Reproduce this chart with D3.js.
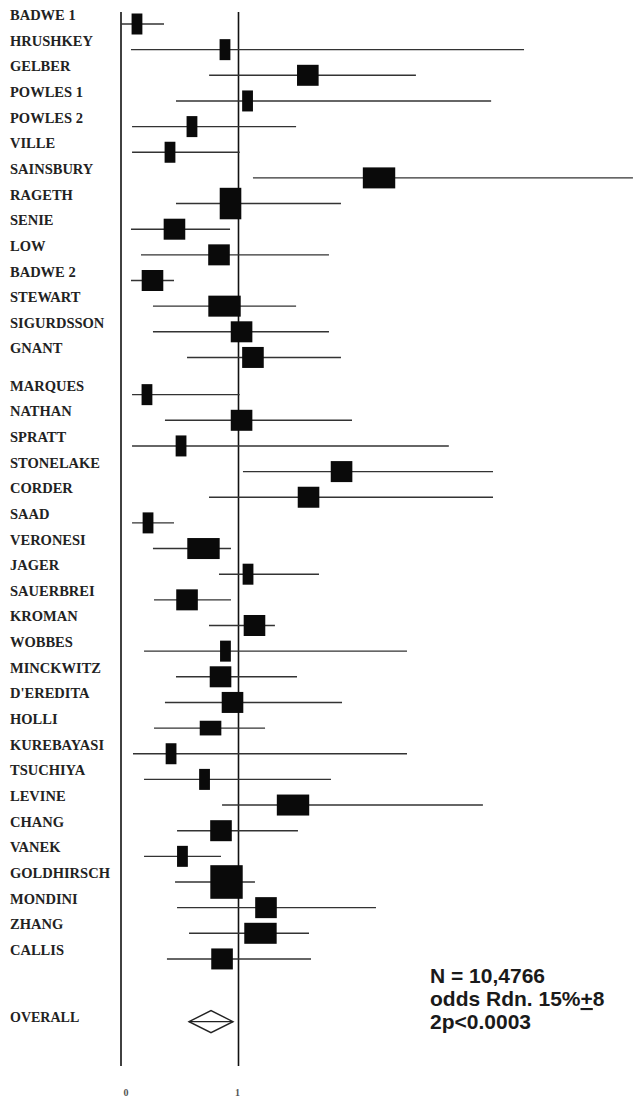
<!DOCTYPE html>
<html>
  <head>
  <title>Forest plot</title>
  <script src="https://cdn.jsdelivr.net/npm/d3@7"></script>
  <style type="text/css">
    body { margin: 0; background: #fff; }
  </style>
  </head>
  <body>
  </body>

  <script type="text/javascript">

    // Width and height
    var w = 634;
    var h = 1099;

    // trials (odds ratio scale)
    var studies = ["BADWE 1", "HRUSHKEY", "GELBER", "POWLES 1", "POWLES 2", "VILLE",
      "SAINSBURY", "RAGETH", "SENIE", "LOW", "BADWE 2", "STEWART", "SIGURDSSON", "GNANT",
      "MARQUES", "NATHAN", "SPRATT", "STONELAKE", "CORDER", "SAAD", "VERONESI", "JAGER",
      "SAUERBREI", "KROMAN", "WOBBES", "MINCKWITZ", "D'EREDITA", "HOLLI", "KUREBAYASI",
      "TSUCHIYA", "LEVINE", "CHANG", "VANEK", "GOLDHIRSCH", "MONDINI", "ZHANG", "CALLIS"];
    var group = [1,1,1,1,1,1,1,1,1,1,1,1,1,1,
      2,2,2,2,2,2,2,2,2,2,2,2,2,2,2,2,2,2,2,2,2,2,2];
    var oddsRatio = [0.136, 0.885, 1.59, 1.077, 0.604, 0.417, 2.196, 0.932, 0.455, 0.834,
      0.268, 0.881, 1.026, 1.123, 0.221, 1.026, 0.511, 1.877, 1.596, 0.23, 0.702, 1.081,
      0.562, 1.136, 0.889, 0.847, 0.949, 0.762, 0.426, 0.711, 1.464, 0.851, 0.523, 0.898,
      1.234, 1.187, 0.86];
    var ciLow = [0.0, 0.085, 0.75, 0.468, 0.094, 0.094, 1.123, 0.468, 0.085, 0.17,
      0.085, 0.272, 0.272, 0.562, 0.094, 0.374, 0.094, 1.038, 0.749, 0.094, 0.272, 0.834,
      0.281, 0.749, 0.196, 0.468, 0.374, 0.281, 0.102, 0.196, 0.86, 0.477, 0.196, 0.46,
      0.477, 0.579, 0.391];
    var ciHigh = [0.366, 3.43, 2.51, 3.15, 1.49, 1.01, 4.357, 1.872, 0.928, 1.77,
      0.451, 1.49, 1.77, 1.872, 1.01, 1.966, 2.79, 3.166, 3.166, 0.451, 0.936, 1.685,
      0.936, 1.31, 2.434, 1.498, 1.881, 1.226, 2.434, 1.787, 3.08, 1.506, 0.851, 1.14,
      2.17, 1.6, 1.617];
    // relative weight of each trial (box width / box height)
    var weightW = [1,1,2,1,1,1,3,2,2,2,2,3,2,2,1,2,1,2,2,1,3,1,2,2,1,2,2,2,1,1,3,2,1,3,2,3,2];
    var weightH = [1,1,1,1,1,1,1,1.5,1,1,1,1,1,1,1,1,1,1,1,1,1,1,1,1,1,1,1,0.7,1,1,1,1,1,1.6,1,1,1];

    var overall = {label: "OVERALL", or: 0.766, lo: 0.579, hi: 0.953};
    var tickValues = [0, 1];
    var tickLabels = ["0", "1"];
    var notes = ["N = 10,4766", "odds Rdn. 15%", "2p<0.0003"];

    var dataset = studies.map(function(s, i) {
      return {label: s, group: group[i], or: oddsRatio[i], lo: ciLow[i], hi: ciHigh[i],
        ww: weightW[i], wh: weightH[i], row: i + (group[i] == 2 ? 0.45 : 0)};
    });

    // scales
    var x = d3.scaleLinear().domain([0, 1]).range([121, 238.5]);
    var y = d3.scaleLinear().domain([0, 1]).range([15, 40.65]);
    var bw = d3.scaleLinear().domain([0, 1]).range([0, 10.8]);
    var bh = d3.scaleLinear().domain([0, 1]).range([0, 21]);
    var markOffset = 9;
    var overallRow = 39.05;

    //Create SVG element
    var svg = d3.select("body")
          .append("svg")
          .attr("width", w)
          .attr("height", h)
          .style("background", "#fff");

    // reference lines at 0 and 1
    svg.selectAll("line.ref")
      .data(tickValues)
      .enter()
      .append("line")
      .attr("class", "ref")
      .attr("x1", function(d) { return x(d); })
      .attr("x2", function(d) { return x(d); })
      .attr("y1", 12)
      .attr("y2", 1066)
      .attr("stroke", "#111")
      .attr("stroke-width", 1.6);

    // labels
    svg.selectAll("text.study")
      .data(dataset)
      .enter()
      .append("text")
      .attr("class", "study")
      .attr("x", 10)
      .attr("y", function(d) { return y(d.row) + 5; })
      .attr("font-family", "'Liberation Serif', 'Times New Roman', serif")
      .attr("font-weight", "bold")
      .attr("font-size", 14.5)
      .attr("fill", "#222")
      .text(function(d) { return d.label; });

    // confidence intervals
    svg.selectAll("line.ci")
      .data(dataset)
      .enter()
      .append("line")
      .attr("class", "ci")
      .attr("x1", function(d) { return x(d.lo); })
      .attr("x2", function(d) { return x(d.hi); })
      .attr("y1", function(d) { return y(d.row) + markOffset; })
      .attr("y2", function(d) { return y(d.row) + markOffset; })
      .attr("stroke", "#333")
      .attr("stroke-width", 1.4);

    // boxes
    svg.selectAll("rect.box")
      .data(dataset)
      .enter()
      .append("rect")
      .attr("class", "box")
      .attr("x", function(d) { return x(d.or) - bw(d.ww) / 2; })
      .attr("y", function(d) { return y(d.row) + markOffset - bh(d.wh) / 2; })
      .attr("width", function(d) { return bw(d.ww); })
      .attr("height", function(d) { return bh(d.wh); })
      .attr("fill", "#0a0a0a");

    // overall
    var oy = y(overallRow);
    svg.append("text")
      .attr("x", 10)
      .attr("y", oy + 5)
      .attr("font-family", "'Liberation Serif', 'Times New Roman', serif")
      .attr("font-weight", "bold")
      .attr("font-size", 14)
      .attr("fill", "#222")
      .text(overall.label);

    var dy = oy + 5;
    svg.append("path")
      .attr("d", d3.line()([[x(overall.lo), dy], [x(overall.or), dy - 11],
        [x(overall.hi), dy], [x(overall.or), dy + 11]]) + "Z")
      .attr("fill", "#fff")
      .attr("stroke", "#222")
      .attr("stroke-width", 1.4);
    svg.append("line")
      .attr("x1", x(overall.lo))
      .attr("x2", x(overall.hi))
      .attr("y1", dy)
      .attr("y2", dy)
      .attr("stroke", "#222")
      .attr("stroke-width", 1.4);

    // tick labels
    svg.selectAll("text.tick")
      .data(tickValues)
      .enter()
      .append("text")
      .attr("class", "tick")
      .attr("x", function(d, i) { return x(d) + (i == 0 ? 5 : -1); })
      .attr("y", 1096)
      .attr("text-anchor", "middle")
      .attr("font-family", "'Liberation Serif', serif")
      .attr("font-weight", "bold")
      .attr("font-size", 10)
      .attr("fill", "#555")
      .text(function(d, i) { return tickLabels[i]; });

    // summary text
    var note = svg.append("g")
      .attr("font-family", "'Liberation Sans', Arial, sans-serif")
      .attr("font-size", 21)
      .attr("font-weight", "bold")
      .attr("fill", "#1a1a1a");
    note.selectAll("text")
      .data(notes)
      .enter()
      .append("text")
      .attr("x", 430)
      .attr("y", function(d, i) { return 983 + i * 23; })
      .each(function(d, i) {
        var t = d3.select(this);
        t.append("tspan").text(d);
        if (i == 1) {
          t.append("tspan").attr("text-decoration", "underline").text("+");
          t.append("tspan").text("8");
        }
      });

  </script>
</html>
